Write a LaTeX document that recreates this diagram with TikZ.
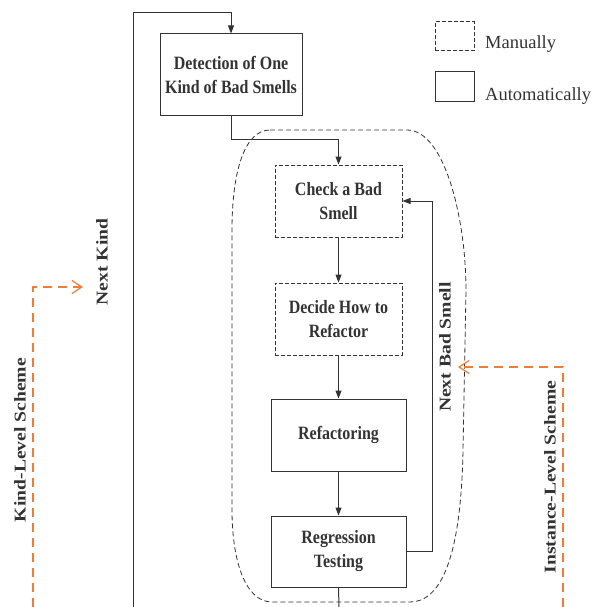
\documentclass[tikz,border=0pt]{standalone}
\usepackage{fontspec}
\setmainfont{Liberation Serif}
\newfontfamily\boxfont[FakeStretch=0.85]{Liberation Serif}
\newfontfamily\sidefont[FakeStretch=1.19]{Liberation Serif}
\usetikzlibrary{arrows.meta}
\definecolor{inkgray}{HTML}{333333}
\definecolor{schemeorange}{HTML}{EE7D3A}

\begin{document}
\begin{tikzpicture}[x=1pt,y=-1pt]
    \tikzset{stepbox/.style = {shape=rectangle,draw=inkgray,line width=1pt,align=center,inner sep=0pt,text=inkgray,font=\boxfont\bfseries\fontsize{18.8}{24}\selectfont}}
    \tikzset{manualbox/.style = {stepbox,dash pattern=on 4pt off 2pt}}
    \tikzset{sidelabel/.style = {rotate=90,text=inkgray,inner sep=0pt,font=\sidefont\bfseries\fontsize{16.5}{19}\selectfont}}
    \tikzset{keylabel/.style = {anchor=base west,inner sep=0pt,text=inkgray,font=\fontsize{18.5}{22}\selectfont}}
    \tikzset{flow/.style = {draw=inkgray,line width=1pt,-{Triangle[length=8pt,width=6pt]}}}
    \tikzset{line/.style = {draw=inkgray,line width=1pt}}
    \tikzset{scheme/.style = {color=schemeorange,line width=1.2pt,dash pattern=on 9pt off 6pt,-{Straight Barb[length=10pt,width=13pt]}}}
    \tikzset{region/.style = {draw=inkgray,line width=0.8pt,dash pattern=on 5pt off 3pt}}

    \useasboundingbox (0,0) rectangle (595,607);

    % region of one bad smell
    \draw[region] (270,130) -- (407,130) .. controls (445,130) and (466,220) .. (466,290)
        -- (463,450) .. controls (461,560) and (440,602) .. (410,602)
        -- (272,602) .. controls (245,602) and (232,560) .. (232,510)
        -- (232,230) .. controls (232,170) and (245,130) .. (270,130) -- cycle;

    % vertices
    \node[stepbox,minimum width=142,minimum height=82] (detect) at (231,75) {Detection of One\\Kind of Bad Smells};
    \node[manualbox,minimum width=127,minimum height=72] (check) at (338.5,201) {Check a Bad\\Smell};
    \node[manualbox,minimum width=127,minimum height=72] (decide) at (338.5,319) {Decide How to\\Refactor};
    \node[stepbox,minimum width=135,minimum height=72] (refactor) at (338.5,435) {Refactoring};
    \node[stepbox,minimum width=135,minimum height=71] (test) at (338.5,551.5) {Regression\\Testing};

    % labels
    \node[sidelabel] (nextkind) at (102,262) {Next Kind};
    \node[sidelabel] (nextsmell) at (445,347) {Next Bad Smell};
    \node[sidelabel] (kindlevel) at (20,440) {Kind-Level Scheme};
    \node[sidelabel] (instlevel) at (550,477) {Instance-Level Scheme};

    % legend
    \node[manualbox,minimum width=39,minimum height=29] (mkey) at (454.5,36.5) {};
    \node[stepbox,minimum width=39,minimum height=30] (akey) at (454.5,87) {};
    \node[keylabel] (mtext) at (485,49) {Manually};
    \node[keylabel] (atext) at (485,101) {Automatically};

    % free ends
    \coordinate (loopend) at (133,607);
    \coordinate (looptop) at (133,13);
    \coordinate (testout) at (339,607);
    \coordinate (kindend) at (33,607);
    \coordinate (kindtip) at (83,287);
    \coordinate (instend) at (563,607);
    \coordinate (insttip) at (458,367);

    % edges
    \draw[flow] (loopend) -- (looptop) -| (detect.north);
    \draw[flow] (detect.south) -- ++(0,23) -| (check.north);
    \draw[flow] (check) to (decide);
    \draw[flow] (decide) to (refactor);
    \draw[flow] (refactor) to (test);
    \draw[flow] (test.east) -- ++(26,0) |- (check.east);
    \draw[line] (test.south) to (testout);
    \draw[scheme] (kindend) |- (kindtip);
    \draw[scheme] (instend) |- (insttip);
\end{tikzpicture}
\end{document}
